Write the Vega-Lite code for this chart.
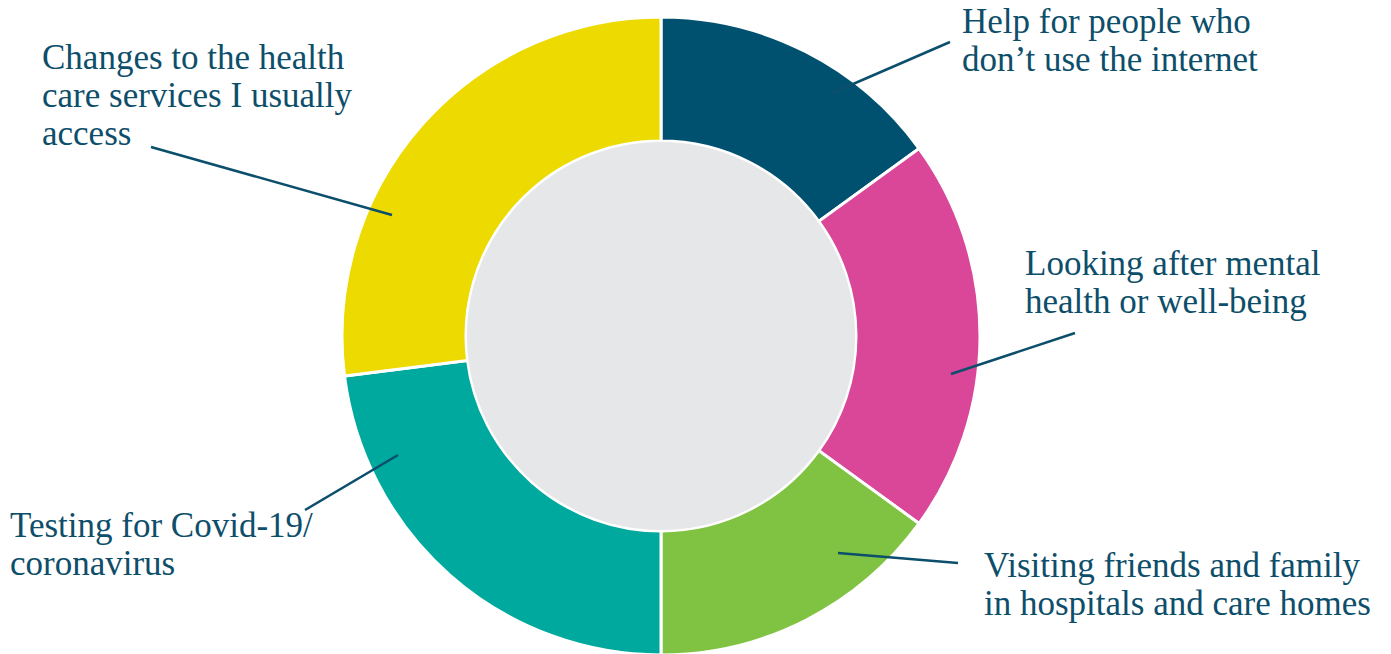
{
  "$schema": "https://vega.github.io/schema/vega-lite/v6.json",
  "width": 1391,
  "height": 654,
  "padding": 0,
  "autosize": "none",
  "background": "white",
  "config": {"view": {"stroke": null}},
  "datasets": {
    "segments": [
      {"category": "Help for people who don’t use the internet", "value": 15, "order": 1},
      {"category": "Looking after mental health or well-being", "value": 20, "order": 2},
      {"category": "Visiting friends and family in hospitals and care homes", "value": 15, "order": 3},
      {"category": "Testing for Covid-19/ coronavirus", "value": 23, "order": 4},
      {"category": "Changes to the health care services I usually access", "value": 27, "order": 5}
    ],
    "labels": [
      {"lines": ["Help for people who", "don’t use the internet"], "lx": 962, "ly": 33, "x1": 950, "y1": 42, "x2": 830, "y2": 94},
      {"lines": ["Looking after mental", "health or well-being"], "lx": 1025, "ly": 275, "x1": 1075, "y1": 333, "x2": 951, "y2": 374},
      {"lines": ["Visiting friends and family", "in hospitals and care homes"], "lx": 984, "ly": 577, "x1": 958, "y1": 563, "x2": 838, "y2": 553},
      {"lines": ["Testing for Covid-19/", "coronavirus"], "lx": 10, "ly": 537, "x1": 305, "y1": 510, "x2": 398, "y2": 455},
      {"lines": ["Changes to the health", "care services I usually", "access"], "lx": 42, "ly": 69, "x1": 151, "y1": 147, "x2": 392, "y2": 215}
    ],
    "center": [{"cx": 661, "cy": 336, "full": 100}]
  },
  "layer": [
    {
      "data": {"name": "segments"},
      "mark": {"type": "arc", "outerRadius": 319, "innerRadius": 195, "stroke": "white", "strokeWidth": 3},
      "encoding": {
        "x": {"datum": 661, "type": "quantitative", "scale": {"domain": [0, 1391], "range": [0, 1391], "nice": false, "zero": false}, "axis": null},
        "y": {"datum": 336, "type": "quantitative", "scale": {"domain": [0, 654], "range": [0, 654], "nice": false, "zero": false}, "axis": null},
        "theta": {"field": "value", "type": "quantitative", "stack": true},
        "order": {"field": "order", "type": "quantitative"},
        "color": {
          "field": "category",
          "type": "nominal",
          "legend": null,
          "scale": {
            "domain": [
              "Help for people who don’t use the internet",
              "Looking after mental health or well-being",
              "Visiting friends and family in hospitals and care homes",
              "Testing for Covid-19/ coronavirus",
              "Changes to the health care services I usually access"
            ],
            "range": ["#00516F", "#DA4799", "#80C241", "#00A99D", "#ECDA00"]
          }
        }
      }
    },
    {
      "data": {"name": "center"},
      "mark": {"type": "arc", "outerRadius": 194, "innerRadius": 0, "fill": "#E6E7E8"},
      "encoding": {
        "x": {"field": "cx", "type": "quantitative"},
        "y": {"field": "cy", "type": "quantitative"},
        "theta": {"field": "full", "type": "quantitative"}
      }
    },
    {
      "data": {"name": "labels"},
      "mark": {"type": "rule", "stroke": "#0B4F6C", "strokeWidth": 2.5},
      "encoding": {
        "x": {"field": "x1", "type": "quantitative"},
        "y": {"field": "y1", "type": "quantitative"},
        "x2": {"field": "x2"},
        "y2": {"field": "y2"}
      }
    },
    {
      "data": {"name": "labels"},
      "mark": {"type": "text", "align": "left", "baseline": "alphabetic", "font": "Liberation Serif", "fontSize": 35, "lineHeight": 38, "fill": "#0D4E6A"},
      "encoding": {
        "x": {"field": "lx", "type": "quantitative"},
        "y": {"field": "ly", "type": "quantitative"},
        "text": {"field": "lines"}
      }
    }
  ]
}
